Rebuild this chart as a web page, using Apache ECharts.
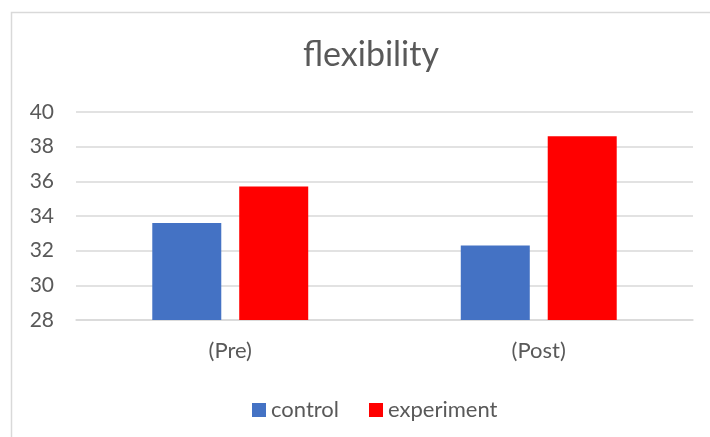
<!DOCTYPE html>
<html>
<head>
<meta charset="utf-8">
<script src="https://cdn.jsdelivr.net/npm/echarts@6/dist/echarts.min.js"></script>
<style>
html,body{margin:0;padding:0;background:#fff;}
#chart{width:710px;height:437px;}
</style>
</head>
<body>
<div id="chart"></div>
<script>
var categories = ['(Pre)', '(Post)'];
var controlValues = [33.6, 32.3];
var experimentValues = [35.7, 38.6];
var seriesNames = ['control', 'experiment'];

var font = 'Lato, "Open Sans", sans-serif';
var chart = echarts.init(document.getElementById('chart'));
chart.setOption({
  animation: false,
  backgroundColor: '#ffffff',
  title: {
    text: 'flexibility',
    left: 366, top: 33, textAlign: 'center',
    textStyle: {fontFamily: font, fontSize: 34, fontWeight: 'normal', color: '#595959'}
  },
  graphic: [{
    type: 'rect', silent: true,
    shape: {x: 11.5, y: 12.5, width: 800, height: 600},
    style: {fill: 'none', stroke: '#d9d9d9', lineWidth: 1.5}
  }],
  legend: {
    data: seriesNames,
    left: 247, top: 394,
    itemWidth: 14, itemHeight: 14, itemGap: 30,
    icon: 'rect',
    textStyle: {fontFamily: font, fontSize: 22, color: '#595959'}
  },
  grid: {left: 76, right: 17, top: 112, bottom: 117, containLabel: false},
  xAxis: {
    type: 'category', data: categories,
    axisLine: {lineStyle: {color: '#d9d9d9', width: 1.5}},
    axisTick: {show: false},
    axisLabel: {fontFamily: font, fontSize: 22, color: '#595959', margin: 20}
  },
  yAxis: {
    type: 'value', min: 28, max: 40, interval: 2,
    axisLine: {show: false}, axisTick: {show: false},
    splitLine: {lineStyle: {color: '#d9d9d9', width: 1.5}},
    axisLabel: {fontFamily: font, fontSize: 21, color: '#595959', margin: 22}
  },
  series: [
    {name: seriesNames[0], type: 'bar', data: controlValues, barWidth: 69, barGap: '26%',
     itemStyle: {color: '#4472C4'}},
    {name: seriesNames[1], type: 'bar', data: experimentValues, barWidth: 69, barGap: '26%',
     itemStyle: {color: '#FF0000'}}
  ]
});
</script>
</body>
</html>
